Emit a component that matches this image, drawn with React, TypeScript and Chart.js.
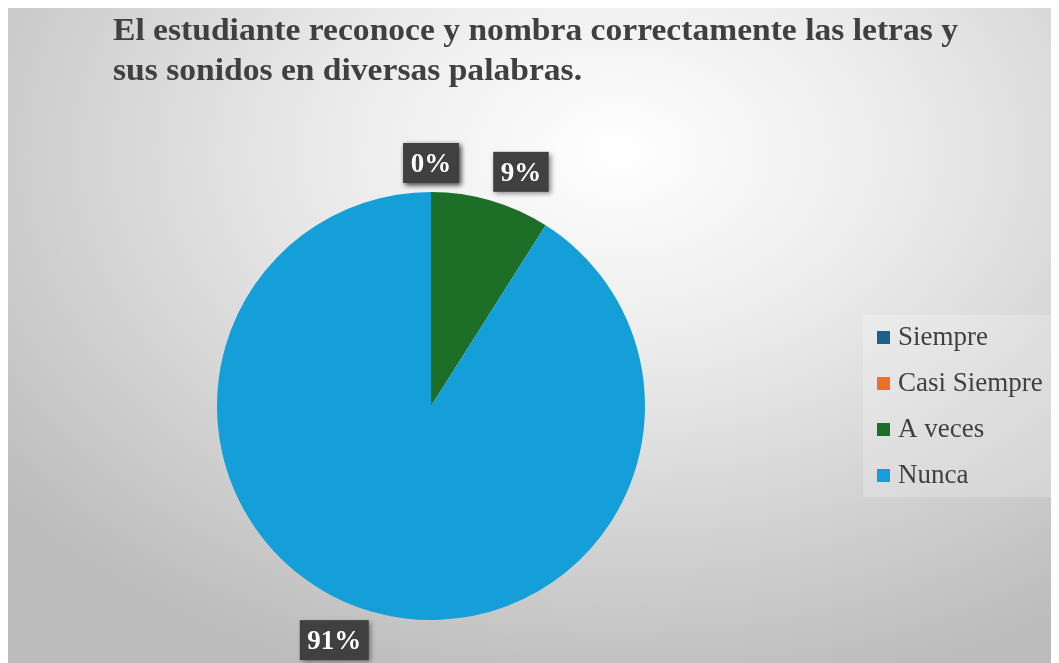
import React, { useEffect, useRef } from "react";
import { Chart, registerables } from "chart.js";

Chart.register(...registerables);

const TITLE_LINES = [
  "El estudiante reconoce y nombra correctamente las letras y",
  "sus sonidos en diversas palabras.",
];
const CATEGORIES = ["Siempre", "Casi Siempre", "A veces", "Nunca"];
const PERCENTS = [0, 0, 9, 91];
const COLORS = ["#1f5f8c", "#e8722c", "#1d6f28", "#149fd8"];

const SERIF = '"Liberation Serif", "Times New Roman", serif';

const overlayPlugin = {
  id: "overlay",
  afterDatasetsDraw(chart: any) {
    const ctx = chart.ctx as CanvasRenderingContext2D;
    const meta = chart.getDatasetMeta(0);
    const ds = chart.data.datasets[0];
    const total = (ds.data as number[]).reduce((a, b) => a + b, 0);
    ctx.save();
    ctx.font = `bold 27px ${SERIF}`;
    meta.data.forEach((arc: any, i: number) => {
      const p = arc.getProps(["x", "y", "startAngle", "endAngle", "outerRadius"], true);
      const mid = (p.startAngle + p.endAngle) / 2;
      const dx = Math.cos(mid);
      const dy = Math.sin(mid);
      const ax = p.x + dx * (p.outerRadius + 9);
      const ay = p.y + dy * (p.outerRadius + 9);
      const txt = Math.round(((ds.data[i] as number) / total) * 100) + "%";
      const tw = ctx.measureText(txt).width;
      const w = tw + 15;
      const h = 40;
      const cx = ax + Math.sign(dx) * Math.min(1, 4 * Math.abs(dx)) * (w / 2);
      const cy = ay + Math.sign(dy) * Math.min(1, 4 * Math.abs(dy)) * (h / 2);
      ctx.save();
      ctx.shadowColor = "rgba(0,0,0,0.45)";
      ctx.shadowBlur = 5;
      ctx.shadowOffsetX = 2;
      ctx.shadowOffsetY = 2;
      ctx.fillStyle = "#404040";
      ctx.fillRect(cx - w / 2, cy - h / 2, w, h);
      ctx.restore();
      ctx.fillStyle = "#ffffff";
      ctx.textAlign = "center";
      ctx.textBaseline = "alphabetic";
      ctx.fillText(txt, cx, cy + 9);
    });
    ctx.restore();
  },
  afterDraw(chart: any) {
    const ctx = chart.ctx as CanvasRenderingContext2D;
    ctx.save();
    // Title
    ctx.fillStyle = "#404040";
    ctx.font = `bold 32px ${SERIF}`;
    ctx.textAlign = "left";
    ctx.textBaseline = "alphabetic";
    const w0 = ctx.measureText(TITLE_LINES[0]).width;
    const sx = 845 / w0;
    TITLE_LINES.forEach((line, i) => {
      ctx.save();
      ctx.translate(105, 32 + i * 40);
      ctx.scale(sx, 1);
      ctx.fillText(line, 0, 0);
      ctx.restore();
    });
    // Legend
    ctx.fillStyle = "rgba(255,255,255,0.22)";
    ctx.fillRect(855, 307, 192, 182);
    ctx.font = `27px ${SERIF}`;
    CATEGORIES.forEach((label, i) => {
      const base = 337 + i * 46;
      ctx.fillStyle = COLORS[i];
      ctx.fillRect(869, base - 14, 13, 13);
      ctx.fillStyle = "#404040";
      ctx.fillText(label, 890, base);
    });
    ctx.restore();
  },
};

export default function App() {
  const ref = useRef<HTMLCanvasElement | null>(null);
  useEffect(() => {
    document.body.style.overflow = "hidden";
    const chart = new Chart(ref.current!, {
      type: "pie",
      data: {
        labels: CATEGORIES,
        datasets: [
          {
            data: PERCENTS,
            backgroundColor: COLORS,
            borderWidth: 0,
            hoverBorderWidth: 0,
            hoverOffset: 0,
            offset: 0,
          },
        ],
      },
      options: {
        responsive: false,
        animation: false,
        events: [],
        layout: { padding: { top: 184, bottom: 43, left: 0, right: 205 } },
        plugins: {
          legend: { display: false },
          title: { display: false },
          tooltip: { enabled: false },
        },
      },
      plugins: [overlayPlugin],
    });
    return () => chart.destroy();
  }, []);
  return (
    <div
      style={{
        width: 1051,
        height: 655,
        background:
          "radial-gradient(ellipse 75% 85% at 58% 22%, #ffffff 0%, #ececec 35%, #d2d2d2 70%, #bcbcbc 100%)",
      }}
    >
      <canvas ref={ref} width={1051} height={655} style={{ display: "block" }} />
    </div>
  );
}
